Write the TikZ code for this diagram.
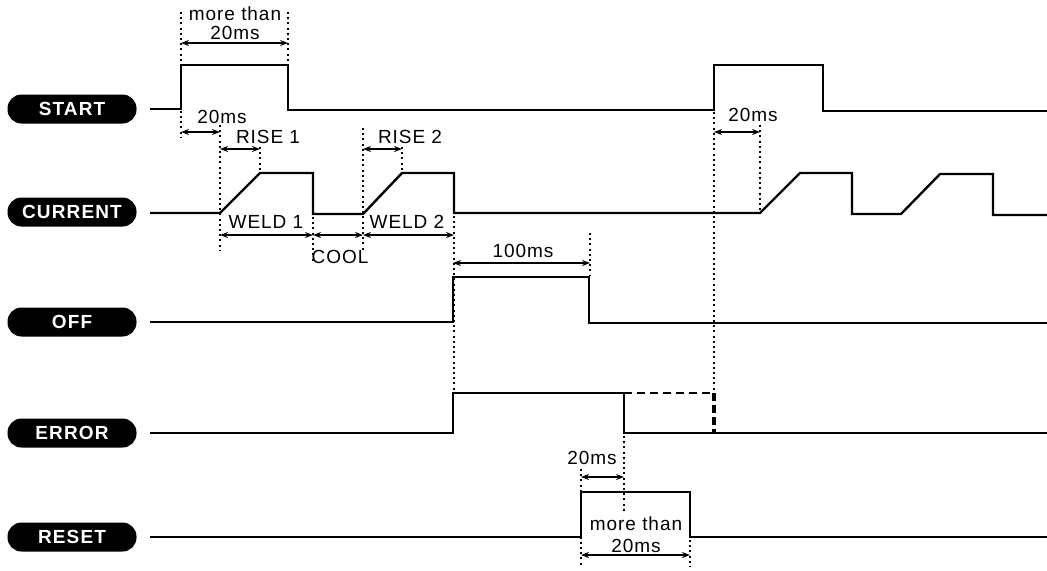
\documentclass[tikz,border=0pt]{standalone}
\usepackage{fontspec}
\setmainfont{Liberation Sans}[LetterSpace=5]
\newfontfamily\pillfont{Liberation Sans}[LetterSpace=6]
\usetikzlibrary{arrows.meta}

\begin{document}
\begin{tikzpicture}[x=0.5pt,y=-0.5pt,
    sig/.style={line width=1.2pt,line join=miter},
    guide/.style={line width=0.9pt,dash pattern=on 1pt off 1.6pt},
    dim/.style={line width=0.7pt,{Stealth[length=4pt,width=3pt]}-{Stealth[length=4pt,width=3pt]}},
    lbl/.style={font=\fontsize{9.5}{10}\selectfont,inner sep=0pt},
    pill/.style={fill=black,text=white,rounded corners=7pt,minimum width=64.5pt,minimum height=14.5pt,inner sep=0pt,font=\pillfont\fontsize{9.5}{10}\selectfont\bfseries}]
    \useasboundingbox (0,0) rectangle (1047,570);
    \foreach \n/\t/\y in {start/START/109,current/CURRENT/212,off/OFF/322,error/ERROR/433,reset/RESET/537}
        \node[pill] (\n) at (72,\y) {\t};

    \draw[sig] (150,109) -- (181,109) -- (181,65) -- (288,65) -- (288,110) -- (714,110) -- (714,65) -- (823,65) -- (823,111) -- (1047,111);
    \draw[sig] (150,213) -- (220,213) -- (260,173) -- (313,173) -- (313,214) -- (363,214) -- (402,173) -- (454,173) -- (454,213)
        -- (760,213) -- (800,173) -- (852,173) -- (852,214) -- (901,214) -- (940,174) -- (993,174) -- (993,215) -- (1047,215);
    \draw[sig] (150,322) -- (453,322) -- (453,277) -- (589,277) -- (589,323) -- (1047,323);
    \draw[sig] (150,433) -- (453,433) -- (453,393) -- (624,393) -- (624,433) -- (1047,433);
    \draw[sig] (150,537) -- (581,537) -- (581,492) -- (690,492) -- (690,537) -- (1047,537);
    \draw[line width=1.2pt,dash pattern=on 4pt off 2.5pt] (624,393) -- (714,393);
    \draw[line width=2pt,dash pattern=on 4pt off 2pt] (714,393) -- (714,433);

    \foreach \x/\a/\b in {181/12/137,288/12/62,220/125/250,260/147/170,313/217/262,363/128/250,402/147/170,
        454/216/393,590/233/275,714/112/392,760/125/211,624/436/513,581/469/567,690/540/567}
        \draw[guide] (\x,\a) -- (\x,\b);

    \foreach \xa/\xb/\y in {181/288/43,181/220/132,220/260/149,220/313/235,313/363/235,363/402/149,
        363/454/235,453/590/263,714/760/132,581/624/477,581/690/555}
        \draw[dim] (\xa,\y) -- (\xb,\y);

    \node[lbl] (more1) at (235,14) {more than};
    \node[lbl] (ms1) at (235,33) {20ms};
    \node[lbl] (ms2) at (222,117) {20ms};
    \node[lbl] (rise1) at (268,137) {RISE 1};
    \node[lbl] (weld1) at (266,222) {WELD 1};
    \node[lbl] (cool) at (340,257) {COOL};
    \node[lbl] (rise2) at (410,137) {RISE 2};
    \node[lbl] (weld2) at (407,222) {WELD 2};
    \node[lbl] (ms3) at (523,251) {100ms};
    \node[lbl] (ms4) at (753,115) {20ms};
    \node[lbl] (ms5) at (592,458) {20ms};
    \node[lbl] (more2) at (636,524) {more than};
    \node[lbl] (ms6) at (636,546) {20ms};
\end{tikzpicture}
\end{document}
